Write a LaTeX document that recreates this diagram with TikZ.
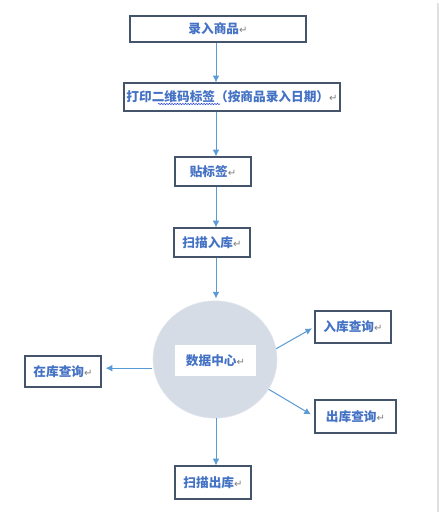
\documentclass[tikz,border=0pt]{standalone}
\usepackage{fontspec}
\setmainfont{Noto Sans CJK SC}
\newfontfamily\dejavu{DejaVu Sans}
\usepackage{xcolor}
\usetikzlibrary{shapes.geometric,arrows.meta,decorations.pathmorphing}
\definecolor{boxline}{HTML}{44546A}
\definecolor{txtblue}{HTML}{4472C4}
\definecolor{arblue}{HTML}{5B9BD5}
\definecolor{hubfill}{HTML}{D6DCE5}
\definecolor{markgray}{HTML}{7F7F7F}
\newcommand{\pmark}{{\dejavu\mdseries\fontsize{7.5}{7.5}\selectfont\color{markgray}↵}}

\begin{document}
\begin{tikzpicture}[
  x=0.75pt, y=-0.75pt,
  font=\fontsize{9.5}{11}\selectfont\bfseries,
  box/.style={draw=boxline, line width=0.9pt, fill=white, text=txtblue, inner sep=0pt, minimum width=57pt, minimum height=22pt},
  hub/.style={ellipse, fill=hubfill, draw=hubfill!70!white, minimum width=93pt, minimum height=88pt},
  ar/.style={-{Latex[length=5pt,width=5pt]}, draw=arblue, fill=arblue, line width=0.75pt},
]
\useasboundingbox (0,0) rectangle (439,519);
\draw[black!12, line width=1.5pt] (437.5,3) -- (437.5,512);
\coordinate (spine) at (216,0);

\node[box, minimum width=132pt, minimum height=19.5pt] (enter) at (218,29) {录入商品\pmark};
\node[box, minimum width=162pt, minimum height=21pt] (print) at (232,97) {打印二维码标签（按商品录入日期）\pmark};
\node[box, minimum height=21.75pt] (label) at (213,171.5) {贴标签\pmark};
\node[box, minimum height=21.75pt] (scanin) at (212,242.5) {扫描入库\pmark};
\node[hub] (hub) at (215,359.5) {};
\node[fill=white, text=txtblue, inner sep=0pt, minimum width=60.75pt, minimum height=23.25pt] (dc) at (215.5,360.5) {数据中心\pmark};
\node[box, minimum height=23.25pt] (stock) at (63,371.5) {在库查询\pmark};
\node[box, minimum height=24pt] (inq) at (353,327) {入库查询\pmark};
\node[box, minimum width=60.75pt, minimum height=24.75pt] (outq) at (355.5,416.5) {出库查询\pmark};
\node[box, minimum height=24.75pt] (scanout) at (213,482.5) {扫描出库\pmark};

% spell-check underline
\draw[txtblue!60!blue, decorate, decoration={snake, amplitude=0.5pt, segment length=2pt}] (158,104) -- (220,104);

\draw[ar] (enter.south -| spine) -- (print.north -| spine);
\draw[ar] (print.south -| spine) -- (label.north -| spine);
\draw[ar] (label.south -| spine) -- (scanin.north -| spine);
\draw[ar, shorten >=1.5pt] (scanin.south -| spine) -- (hub.north -| spine);
\draw[ar] (hub.south -| spine) -- (scanout.north -| spine);
\draw[ar, shorten <=1pt, shorten >=3pt] (hub.188) -- (hub.188 -| stock.east);
\draw[ar, shorten >=2pt] (hub.10) -- (inq.west);
\draw[ar, shorten >=3pt] (hub.331) -- (outq.west);
\end{tikzpicture}
\end{document}
